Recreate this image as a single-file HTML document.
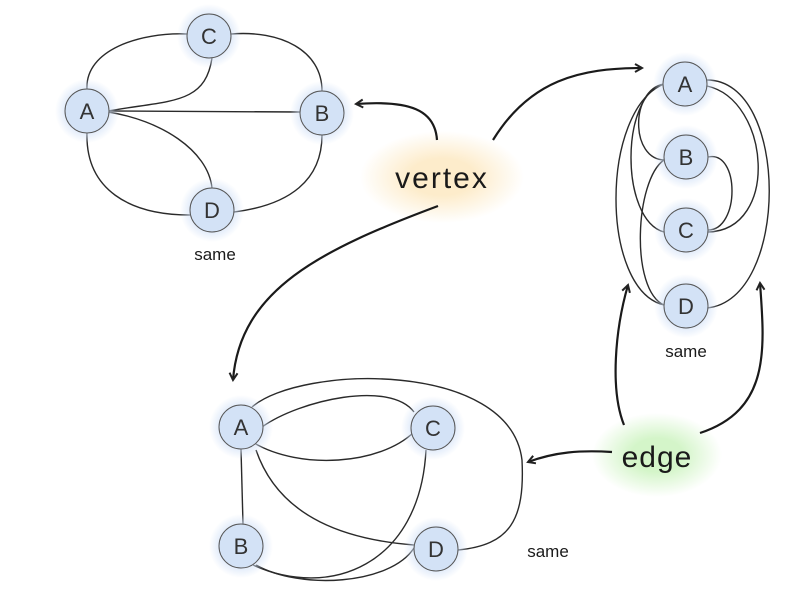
<!DOCTYPE html>
<html><head><meta charset="utf-8"><style>
html,body{margin:0;padding:0;background:#fff;width:800px;height:600px;overflow:hidden}
svg{display:block}
text{font-family:"Liberation Sans",sans-serif}
</style></head><body>
<svg width="800" height="600" viewBox="0 0 800 600" xmlns="http://www.w3.org/2000/svg">
<defs>
<radialGradient id="glow"><stop offset="0.6" stop-color="#d2e1f7" stop-opacity="0.8"/><stop offset="1" stop-color="#d2e1f7" stop-opacity="0"/></radialGradient>
<radialGradient id="og"><stop offset="0.4" stop-color="#fdeccb"/><stop offset="1" stop-color="#fdeccb" stop-opacity="0"/></radialGradient>
<radialGradient id="gg"><stop offset="0.4" stop-color="#d4f5c9"/><stop offset="1" stop-color="#d4f5c9" stop-opacity="0"/></radialGradient>
<marker id="ar" markerWidth="10" markerHeight="10" refX="8" refY="5" orient="auto" markerUnits="userSpaceOnUse"><path d="M1,1 L8,5 L1,9" fill="none" stroke="#222" stroke-width="2"/></marker>
</defs>
<ellipse cx="442" cy="177" rx="82" ry="46" fill="url(#og)"/>
<ellipse cx="657" cy="455" rx="65" ry="42" fill="url(#gg)"/>
<g fill="none" stroke="#2a2a2a" stroke-width="1.4">
<path d="M87,89 C85,50 140,32 187,34"/>
<path d="M231,34 C280,30 322,50 322,91"/>
<path d="M108,111 C170,100 205,105 212,58"/>
<path d="M108,111 L300,112"/>
<path d="M108,112 C160,120 208,150 212,188"/>
<path d="M87,132 C85,190 130,215 190,215"/>
<path d="M234,212 C290,205 322,180 322,135"/>
<path d="M664,84 C630,90 630,160 665,160"/>
<path d="M664,84 C620,95 620,220 664,232"/>
<path d="M664,84 C600,110 600,290 664,305"/>
<path d="M707,80 C790,80 790,300 707,308"/>
<path d="M707,86 C770,100 780,230 708,232"/>
<path d="M708,157 C740,150 740,230 708,230"/>
<path d="M664,160 C635,180 630,290 664,305"/>
<path d="M252,407 C300,365 510,360 522,460 C525,520 510,545 458,550"/>
<path d="M262,427 C300,400 390,380 414,412"/>
<path d="M254,443 C300,470 380,465 414,432"/>
<path d="M241,449 L243,524"/>
<path d="M256,450 C280,520 350,540 414,545"/>
<path d="M253,565 C330,600 420,565 426,450"/>
<path d="M256,565 C300,590 390,585 414,548"/>
</g>
<g fill="none" stroke="#1a1a1a" stroke-width="2.2" marker-end="url(#ar)">
<path d="M437,140 C435,110 410,100 356,104"/>
<path d="M493,140 C530,80 580,68 642,68"/>
<path d="M438,206 C320,250 240,290 233,380"/>
<path d="M624,425 C610,390 615,330 628,285"/>
<path d="M700,433 C770,410 765,350 760,283"/>
<path d="M612,452 C580,450 555,452 528,462"/>
</g>
<g font-size="22" fill="#333" text-anchor="middle">
<g><circle cx="209" cy="36" r="32" fill="url(#glow)"/><circle cx="209" cy="36" r="22" fill="#d3e2f6" stroke="#555"/><text x="209" y="44">C</text></g>
<g><circle cx="87" cy="111" r="32" fill="url(#glow)"/><circle cx="87" cy="111" r="22" fill="#d3e2f6" stroke="#555"/><text x="87" y="119">A</text></g>
<g><circle cx="322" cy="113" r="32" fill="url(#glow)"/><circle cx="322" cy="113" r="22" fill="#d3e2f6" stroke="#555"/><text x="322" y="121">B</text></g>
<g><circle cx="212" cy="210" r="32" fill="url(#glow)"/><circle cx="212" cy="210" r="22" fill="#d3e2f6" stroke="#555"/><text x="212" y="218">D</text></g>
<g><circle cx="685" cy="84" r="32" fill="url(#glow)"/><circle cx="685" cy="84" r="22" fill="#d3e2f6" stroke="#555"/><text x="685" y="92">A</text></g>
<g><circle cx="686" cy="157" r="32" fill="url(#glow)"/><circle cx="686" cy="157" r="22" fill="#d3e2f6" stroke="#555"/><text x="686" y="165">B</text></g>
<g><circle cx="686" cy="230" r="32" fill="url(#glow)"/><circle cx="686" cy="230" r="22" fill="#d3e2f6" stroke="#555"/><text x="686" y="238">C</text></g>
<g><circle cx="686" cy="306" r="32" fill="url(#glow)"/><circle cx="686" cy="306" r="22" fill="#d3e2f6" stroke="#555"/><text x="686" y="314">D</text></g>
<g><circle cx="241" cy="427" r="32" fill="url(#glow)"/><circle cx="241" cy="427" r="22" fill="#d3e2f6" stroke="#555"/><text x="241" y="435">A</text></g>
<g><circle cx="433" cy="428" r="32" fill="url(#glow)"/><circle cx="433" cy="428" r="22" fill="#d3e2f6" stroke="#555"/><text x="433" y="436">C</text></g>
<g><circle cx="241" cy="546" r="32" fill="url(#glow)"/><circle cx="241" cy="546" r="22" fill="#d3e2f6" stroke="#555"/><text x="241" y="554">B</text></g>
<g><circle cx="436" cy="549" r="32" fill="url(#glow)"/><circle cx="436" cy="549" r="22" fill="#d3e2f6" stroke="#555"/><text x="436" y="557">D</text></g>
</g>
<g fill="#1a1a1a" text-anchor="middle">
<text x="215" y="260" font-size="17">same</text>
<text x="686" y="357" font-size="17">same</text>
<text x="548" y="557" font-size="17">same</text>
<text x="442" y="188" font-size="30" letter-spacing="2">vertex</text>
<text x="657" y="467" font-size="30" letter-spacing="1">edge</text>
</g>
</svg>
</body></html>
